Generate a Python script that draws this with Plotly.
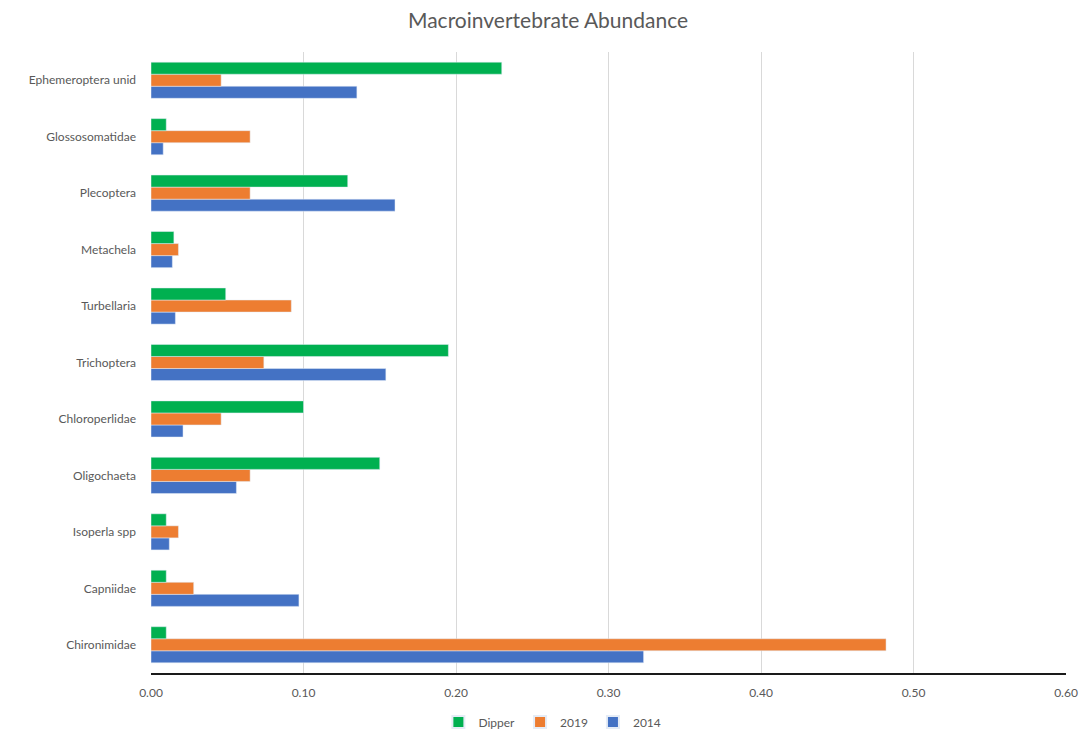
import plotly.graph_objects as go

categories = ["Chironimidae", "Capniidae", "Isoperla spp", "Oligochaeta", "Chloroperlidae",
              "Trichoptera", "Turbellaria", "Metachela", "Plecoptera", "Glossosomatidae",
              "Ephemeroptera unid"]
dipper = [0.010, 0.010, 0.010, 0.150, 0.100, 0.195, 0.049, 0.015, 0.129, 0.010, 0.230]
y2019 = [0.482, 0.028, 0.018, 0.065, 0.046, 0.074, 0.092, 0.018, 0.065, 0.065, 0.046]
y2014 = [0.323, 0.097, 0.012, 0.056, 0.021, 0.154, 0.016, 0.014, 0.160, 0.008, 0.135]
x_ticks = [0.0, 0.1, 0.2, 0.3, 0.4, 0.5, 0.6]

FONT = "Lato, 'Open Sans', sans-serif"
GREY = "#595959"

fig = go.Figure()
fig.add_trace(go.Bar(y=categories, x=y2014, name="2014", orientation="h", marker_color="#4472C4"))
fig.add_trace(go.Bar(y=categories, x=y2019, name="2019", orientation="h", marker_color="#ED7D31"))
fig.add_trace(go.Bar(y=categories, x=dipper, name="Dipper", orientation="h", marker_color="#00B050"))

fig.update_layout(
    width=1081, height=732,
    barmode="group", bargap=0.36, bargroupgap=0,
    paper_bgcolor="white", plot_bgcolor="white",
    margin=dict(l=151, r=15, t=52, b=59, autoexpand=False),
    font=dict(family=FONT, color=GREY, size=12),
    title=dict(text="Macroinvertebrate Abundance", x=0.507, xanchor="center", y=0.972, yanchor="middle",
               font=dict(size=21, color=GREY, family=FONT)),
    legend=dict(orientation="h", x=0.511, xanchor="center", y=0.0137, yanchor="middle",
                xref="container", yref="container", traceorder="reversed",
                font=dict(size=12, color=GREY), itemwidth=30, itemsizing="constant"),
    showlegend=True,
)
fig.update_xaxes(range=[0, 0.6], tickvals=x_ticks, tickformat=".2f", showgrid=True,
                 gridcolor="#D9D9D9", gridwidth=1, zeroline=False, showline=True,
                 linecolor="#1a1a1a", linewidth=1.5, ticks="", ticklabelstandoff=8,
                 automargin=False, tickfont=dict(size=12, color=GREY))
fig.update_yaxes(showgrid=False, zeroline=False, showline=False, ticks="",
                 ticklabelstandoff=14, automargin=False, tickfont=dict(size=12, color=GREY))

fig.write_html("out.html")
